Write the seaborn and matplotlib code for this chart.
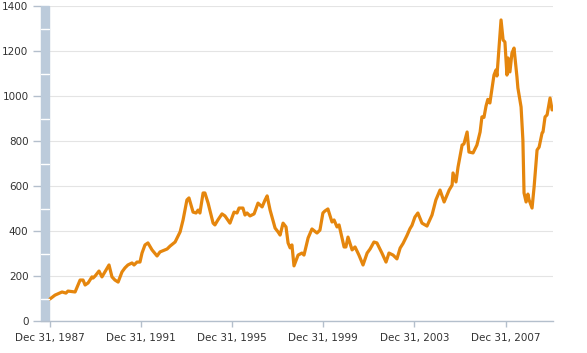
import pandas as pd
import numpy as np
import seaborn as sns
import matplotlib.pyplot as plt
import matplotlib.dates as mdates
from matplotlib.patches import Rectangle

# fecha en años decimales y valor
years = [1988.00, 1988.22, 1988.53, 1988.70, 1988.79, 1989.10, 1989.32, 1989.45, 1989.54, 1989.67,
         1989.84, 1989.89, 1989.98, 1990.15, 1990.28, 1990.41, 1990.59, 1990.72, 1990.85, 1990.99,
         1991.16, 1991.29, 1991.42, 1991.60, 1991.69, 1991.82, 1991.95, 1992.04, 1992.17, 1992.30,
         1992.48, 1992.70, 1992.83, 1993.14, 1993.27, 1993.49, 1993.71, 1993.84, 1994.01, 1994.10,
         1994.28, 1994.41, 1994.50, 1994.58, 1994.72, 1994.80, 1994.94, 1995.16, 1995.24, 1995.37,
         1995.55, 1995.68, 1995.90, 1996.08, 1996.21, 1996.30, 1996.47, 1996.56, 1996.65, 1996.78,
         1996.96, 1997.13, 1997.31, 1997.44, 1997.53, 1997.66, 1997.88, 1998.01, 1998.10, 1998.23,
         1998.36, 1998.45, 1998.54, 1998.62, 1998.71, 1998.89, 1999.06, 1999.15, 1999.33, 1999.50,
         1999.72, 1999.85, 1999.98, 2000.07, 2000.20, 2000.38, 2000.47, 2000.60, 2000.69, 2000.91,
         2000.99, 2001.08, 2001.26, 2001.39, 2001.56, 2001.74, 2001.92, 2002.05, 2002.22, 2002.35,
         2002.57, 2002.75, 2002.88, 2003.06, 2003.23, 2003.37, 2003.50, 2003.67, 2003.80, 2003.89,
         2004.02, 2004.15, 2004.33, 2004.55, 2004.77, 2004.94, 2005.12, 2005.30, 2005.52, 2005.65,
         2005.69, 2005.82, 2005.91, 2006.09, 2006.17, 2006.31, 2006.39, 2006.57, 2006.74, 2006.88,
         2006.96, 2007.05, 2007.14, 2007.22, 2007.31, 2007.49, 2007.58, 2007.62, 2007.80, 2007.89,
         2007.97, 2008.06, 2008.11, 2008.19, 2008.28, 2008.37, 2008.50, 2008.54, 2008.68, 2008.76,
         2008.81, 2008.90, 2008.98, 2009.03, 2009.16, 2009.25, 2009.38, 2009.47, 2009.60, 2009.64,
         2009.73, 2009.82, 2009.95, 2010.04]
values = [98, 115, 129, 124, 133, 129, 182, 182, 160, 169,
          196, 191, 200, 222, 196, 218, 249, 196, 182, 173,
          218, 236, 249, 258, 249, 262, 262, 302, 338, 347,
          316, 289, 307, 320, 333, 351, 396, 449, 538, 547,
          484, 480, 493, 480, 569, 569, 524, 435, 427, 449,
          476, 467, 435, 484, 480, 502, 502, 471, 480, 467,
          476, 524, 507, 538, 556, 493, 413, 396, 382, 435,
          418, 347, 325, 338, 245, 293, 302, 293, 369, 409,
          391, 404, 480, 489, 498, 440, 449, 418, 427, 329,
          329, 373, 316, 329, 293, 249, 302, 320, 351, 347,
          302, 262, 302, 293, 276, 324, 345, 380, 410, 425,
          462, 480, 435, 422, 471, 538, 582, 529, 582, 604,
          658, 618, 684, 782, 787, 840, 751, 747, 782, 840,
          907, 905, 955, 985, 969, 1093, 1116, 1089, 1338, 1249,
          1240, 1093, 1169, 1107, 1191, 1213, 1084, 1036, 951, 804,
          569, 529, 564, 538, 502, 596, 760, 773, 836, 840,
          907, 916, 991, 938]

x_ticks = ["1987-12-31", "1991-12-31", "1995-12-31", "1999-12-31", "2003-12-31", "2007-12-31"]


def year_to_date(y):
    yr = int(np.floor(y))
    start = pd.Timestamp(yr, 1, 1)
    return start + pd.Timedelta(days=(y - yr) * 365.25)


df = pd.DataFrame({"fecha": [year_to_date(y) for y in years], "valor": values})

sns.set_style("white")
plt.rcParams['font.family'] = ['DejaVu Sans']

fig = plt.figure(figsize=(5.87, 3.53), dpi=100)
ax = fig.add_axes([41 / 587, 32 / 353, 512 / 587, 315 / 353])

sns.lineplot(data=df, x="fecha", y="valor", ax=ax, color="#E5860D", linewidth=2.3)

ax.set_xlim(year_to_date(1987.605), year_to_date(2010.08))
ax.set_ylim(0, 1400)

# grilla horizontal
ax.set_yticks(range(0, 1401, 200))
ax.yaxis.grid(True, color="#e4e4e4", linewidth=0.8)
ax.set_axisbelow(True)

# barra azul a la izquierda
bar_w = 7.5 / 512
ax.add_patch(Rectangle((0, 0), bar_w, 1, transform=ax.transAxes, color="#bccbdb", zorder=1, clip_on=False))
for v in range(100, 1400, 200):
    ax.plot([0, bar_w], [v, v], transform=ax.get_yaxis_transform(), color="white", linewidth=1, zorder=2)

ax.set_xticks([pd.Timestamp(t) for t in x_ticks])
ax.xaxis.set_major_formatter(mdates.DateFormatter("Dec 31, %Y"))

for s in ["top", "right", "left"]:
    ax.spines[s].set_visible(False)
ax.spines["bottom"].set_color("#b4bfcc")
ax.spines["bottom"].set_linewidth(1)

ax.tick_params(axis="y", length=6, color="#b4bfcc", width=1, pad=3, labelsize=7.5, labelcolor="#333333")
ax.tick_params(axis="x", length=4, color="#b4bfcc", width=1, pad=5, labelsize=7.5, labelcolor="#333333")
ax.tick_params(axis="y", direction="out", left=True)
ax.tick_params(axis="x", direction="out", bottom=True)

ax.set_xlabel("")
ax.set_ylabel("")

plt.savefig("out.png", dpi=100)
